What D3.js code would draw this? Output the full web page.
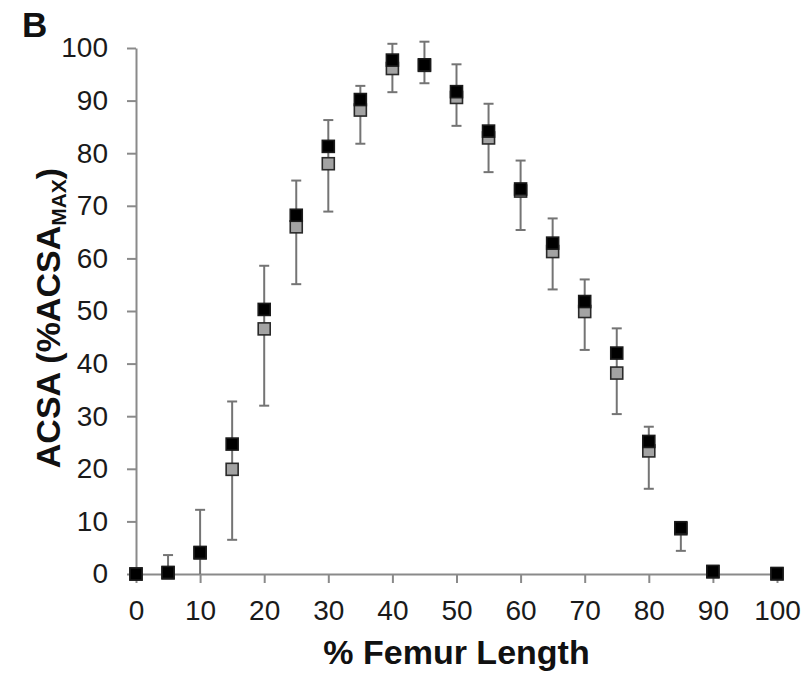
<!DOCTYPE html>
<html>
<head>
<meta charset="utf-8">
<script src="https://cdn.jsdelivr.net/npm/d3@7"></script>
<style>
  body { margin: 0; background: #fff; }
  svg { display: block; font-family: Arial, "Liberation Sans", sans-serif; }
</style>
</head>
<body>
<div id="chart"></div>
<script>
// % femur length positions
const pct = [0, 5, 10, 15, 20, 25, 30, 35, 40, 45, 50, 55, 60, 65, 70, 75, 80, 85, 90, 100];
// black squares
const blackMean = [0, 0.3, 4.1, 24.7, 50.3, 68.2, 81.3, 90.2, 97.7, 96.8, 91.7, 84.2, 73.2, 62.9, 51.8, 42.0, 25.2, 8.8, 0.5, 0.1];
// grey squares
const grayMean = [0, 0.2, 4.0, 19.9, 46.6, 66.0, 78.0, 88.2, 96.1, 96.7, 90.6, 82.9, 72.8, 61.3, 49.9, 38.2, 23.4, 8.6, 0.4, 0];
// error bar ends (grey series)
const errLow = [0, 0, 0, 6.5, 32.0, 55.1, 68.9, 81.8, 91.6, 93.3, 85.2, 76.4, 65.4, 54.1, 42.6, 30.4, 16.2, 4.4, 0, 0];
const errHigh = [0, 3.6, 12.2, 32.8, 58.6, 74.8, 86.3, 92.8, 100.8, 101.2, 96.9, 89.4, 78.6, 67.6, 56.0, 46.7, 28.0, 9.6, 0, 0];
const xTicks = [0, 10, 20, 30, 40, 50, 60, 70, 80, 90, 100];
const yTicks = [0, 10, 20, 30, 40, 50, 60, 70, 80, 90, 100];

const width = 808, height = 673;
const margin = { top: 48, right: 31, bottom: 99, left: 136 };

const svg = d3.select('#chart')
    .append('svg')
    .attr('width', width)
    .attr('height', height);

const x = d3.scaleLinear()
    .domain([0, 100])
    .range([margin.left, width - margin.right]);

const y = d3.scaleLinear()
    .domain([0, 100])
    .range([height - margin.bottom, margin.top]);

const rows = pct.map((p, i) => ({
    p: p, black: blackMean[i], gray: grayMean[i], lo: errLow[i], hi: errHigh[i]
}));

// axes
const yAxis = svg.append('g')
    .attr('transform', `translate(${margin.left},0)`)
    .call(d3.axisLeft(y).tickValues(yTicks).tickSize(9).tickPadding(19).tickSizeOuter(0));

const xAxis = svg.append('g')
    .attr('transform', `translate(0,${y(0)})`)
    .call(d3.axisBottom(x).tickValues(xTicks).tickSize(9).tickPadding(17).tickSizeOuter(0));

[xAxis, yAxis].forEach(g => {
    g.select('.domain').attr('stroke', '#8a8a8a').attr('stroke-width', 2);
    g.selectAll('.tick line').attr('stroke', '#8a8a8a').attr('stroke-width', 2);
    g.selectAll('.tick text')
        .attr('fill', '#1a1a1a')
        .style('font-size', '28px');
});

// error bars
const eb = rows.filter(d => d.hi > d.lo);
const bars = svg.append('g')
    .attr('stroke', '#747474')
    .attr('stroke-width', 2);

bars.selectAll('line.stem')
    .data(eb)
    .join('line')
    .attr('class', 'stem')
    .attr('x1', d => x(d.p))
    .attr('x2', d => x(d.p))
    .attr('y1', d => y(d.lo))
    .attr('y2', d => y(d.hi));

bars.selectAll('line.capHi')
    .data(eb)
    .join('line')
    .attr('class', 'capHi')
    .attr('x1', d => x(d.p) - 5)
    .attr('x2', d => x(d.p) + 5)
    .attr('y1', d => y(d.hi))
    .attr('y2', d => y(d.hi));

bars.selectAll('line.capLo')
    .data(eb.filter(d => d.lo > 0))
    .join('line')
    .attr('class', 'capLo')
    .attr('x1', d => x(d.p) - 5)
    .attr('x2', d => x(d.p) + 5)
    .attr('y1', d => y(d.lo))
    .attr('y2', d => y(d.lo));

// grey squares first, black on top
const sq = 12;
svg.append('g')
    .selectAll('rect')
    .data(rows)
    .join('rect')
    .attr('x', d => x(d.p) - sq / 2)
    .attr('y', d => y(d.gray) - sq / 2)
    .attr('width', sq)
    .attr('height', sq)
    .attr('fill', '#a3a3a3')
    .attr('stroke', '#2a2a2a')
    .attr('stroke-width', 1.6);

svg.append('g')
    .selectAll('rect')
    .data(rows)
    .join('rect')
    .attr('x', d => x(d.p) - sq / 2)
    .attr('y', d => y(d.black) - sq / 2)
    .attr('width', sq)
    .attr('height', sq)
    .attr('fill', '#000')
    .attr('stroke', '#1a1a1a')
    .attr('stroke-width', 1.6);

// titles
svg.append('text')
    .attr('x', (x(0) + x(100)) / 2)
    .attr('y', 664)
    .attr('text-anchor', 'middle')
    .style('font-size', '34px')
    .style('font-weight', 'bold')
    .attr('fill', '#111')
    .text('% Femur Length');

const yt = svg.append('text')
    .attr('transform', 'translate(60,318) rotate(-90)')
    .attr('text-anchor', 'middle')
    .style('font-size', '34px')
    .style('font-weight', 'bold')
    .attr('fill', '#111');
yt.append('tspan').text('ACSA (%ACSA');
yt.append('tspan').attr('dy', 6).style('font-size', '21px').text('MAX');
yt.append('tspan').attr('dy', -6).text(')');

svg.append('text')
    .attr('x', 22)
    .attr('y', 37)
    .style('font-size', '35px')
    .style('font-weight', 'bold')
    .attr('fill', '#111')
    .text('B');
</script>
</body>
</html>
